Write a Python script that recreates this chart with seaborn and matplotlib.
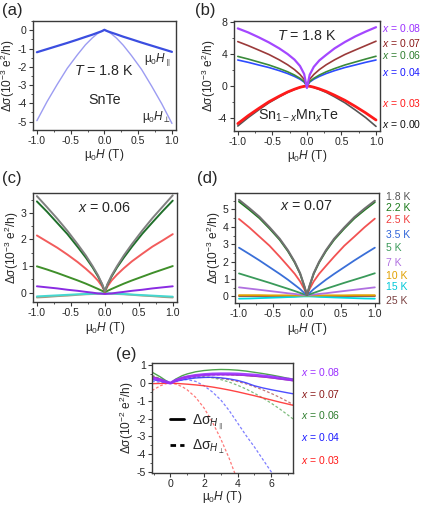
import numpy as np
import pandas as pd
import matplotlib
matplotlib.use("Agg")
import matplotlib.pyplot as plt
import seaborn as sns
from matplotlib.ticker import MultipleLocator
from matplotlib.lines import Line2D

sns.set_style("ticks")
plt.rcParams['font.family'] = ['Liberation Sans', 'DejaVu Sans']
plt.rcParams['mathtext.fontset'] = 'custom'
plt.rcParams['mathtext.rm'] = 'Liberation Sans'
plt.rcParams['mathtext.it'] = 'Liberation Sans:italic'
plt.rcParams['mathtext.bf'] = 'Liberation Sans:bold'
plt.rcParams['axes.unicode_minus'] = False

# ---------------- data ----------------
H = [-1.0, -0.85, -0.7, -0.55, -0.4, -0.28, -0.18, -0.1, -0.04, 0.0,
     0.04, 0.1, 0.18, 0.28, 0.4, 0.55, 0.7, 0.85, 1.0]

# (a) SnTe, T = 1.8 K
a_par = [-1.2, -1.03, -0.86, -0.69, -0.51, -0.36, -0.24, -0.13, -0.05, 0.03,
         -0.04, -0.12, -0.22, -0.35, -0.49, -0.67, -0.84, -1.01, -1.18]
a_perp = [-4.95, -3.91, -2.97, -2.08, -1.34, -0.79, -0.42, -0.17, -0.04, 0.0,
          -0.04, -0.18, -0.43, -0.82, -1.38, -2.14, -3.06, -4.03, -5.1]

# (b) Sn1-xMnxTe, T = 1.8 K
b_labels = ["0.08", "0.07", "0.06", "0.04", "0.03", "0.00"]
b08 = [7.2, 6.7, 6.1, 5.45, 4.7, 4.0, 3.3, 2.5, 1.5, -0.25,
       1.4, 2.4, 3.2, 3.9, 4.7, 5.5, 6.2, 6.8, 7.35]
b07 = [5.55, 5.05, 4.5, 3.94, 3.27, 2.66, 2.05, 1.44, 0.83, 0.0,
       0.83, 1.44, 2.05, 2.66, 3.27, 3.94, 4.5, 5.05, 5.6]
b06 = [3.7, 3.37, 3.0, 2.63, 2.18, 1.78, 1.37, 0.96, 0.56, 0.0,
       0.56, 0.96, 1.37, 1.78, 2.18, 2.63, 3.0, 3.37, 3.72]
b04 = [3.25, 2.96, 2.63, 2.31, 1.92, 1.56, 1.2, 0.85, 0.49, 0.0,
       0.49, 0.85, 1.2, 1.56, 1.92, 2.31, 2.63, 2.96, 3.25]
b03 = [-4.7, -3.71, -2.82, -1.97, -1.27, -0.75, -0.4, -0.16, -0.04, 0.0,
       -0.03, -0.15, -0.36, -0.68, -1.15, -1.79, -2.55, -3.36, -4.25]
b00 = [-5.0, -3.95, -3.0, -2.1, -1.35, -0.8, -0.43, -0.18, -0.04, 0.0,
       -0.04, -0.18, -0.43, -0.8, -1.35, -2.1, -3.0, -3.95, -5.05]

# (c) x = 0.06
c1 = [3.63, 3.21, 2.78, 2.32, 1.82, 1.40, 1.0, 0.65, 0.33, 0.05,
      0.33, 0.65, 1.0, 1.40, 1.83, 2.33, 2.8, 3.23, 3.66]
c2 = [3.43, 3.04, 2.62, 2.2, 1.72, 1.32, 0.95, 0.61, 0.31, 0.05,
      0.31, 0.61, 0.95, 1.32, 1.73, 2.21, 2.64, 3.06, 3.46]
c3 = [2.15, 1.92, 1.69, 1.43, 1.15, 0.9, 0.67, 0.45, 0.24, 0.03,
      0.24, 0.46, 0.68, 0.92, 1.18, 1.46, 1.73, 1.96, 2.2]
c4 = [0.99, 0.87, 0.74, 0.6, 0.46, 0.34, 0.23, 0.14, 0.07, 0.02,
      0.07, 0.14, 0.23, 0.34, 0.46, 0.6, 0.74, 0.87, 1.0]
c5 = [0.24, 0.2, 0.16, 0.11, 0.07, 0.03, 0.0, -0.03, -0.04, -0.05,
      -0.04, -0.03, 0.0, 0.03, 0.07, 0.11, 0.16, 0.2, 0.24]
c6 = [-0.14, -0.12, -0.1, -0.08, -0.06, -0.05, -0.04, -0.03, -0.03, -0.03,
      -0.03, -0.03, -0.04, -0.05, -0.07, -0.09, -0.11, -0.13, -0.15]
c7 = [-0.18, -0.16, -0.13, -0.11, -0.08, -0.06, -0.05, -0.04, -0.03, -0.03,
      -0.03, -0.04, -0.05, -0.06, -0.08, -0.11, -0.13, -0.16, -0.18]

# (d) x = 0.07, temperatures
d_labels = ["1.8 K", "2.2 K", "2.5 K", "3.5 K", "5 K", "7 K", "10 K", "15 K", "25 K"]
d18 = [5.55, 5.08, 4.58, 3.97, 3.31, 2.65, 1.99, 1.33, 0.62, 0.08,
       0.62, 1.33, 1.99, 2.65, 3.31, 3.96, 4.56, 5.05, 5.5]
d22 = [5.45, 4.99, 4.5, 3.9, 3.25, 2.6, 1.95, 1.3, 0.6, 0.08,
       0.6, 1.3, 1.95, 2.6, 3.25, 3.9, 4.49, 4.97, 5.42]
d25 = [4.45, 3.97, 3.44, 2.91, 2.28, 1.75, 1.3, 0.86, 0.43, 0.08,
       0.43, 0.86, 1.3, 1.75, 2.28, 2.91, 3.44, 3.98, 4.47]
d35 = [2.8, 2.44, 2.07, 1.68, 1.29, 0.96, 0.66, 0.42, 0.2, 0.08,
       0.2, 0.42, 0.66, 0.96, 1.29, 1.68, 2.07, 2.44, 2.8]
d5 = [1.32, 1.14, 0.96, 0.78, 0.59, 0.44, 0.31, 0.2, 0.12, 0.08,
      0.12, 0.2, 0.31, 0.44, 0.59, 0.78, 0.96, 1.14, 1.33]
d7 = [0.52, 0.45, 0.38, 0.31, 0.24, 0.18, 0.14, 0.1, 0.08, 0.07,
      0.08, 0.1, 0.14, 0.18, 0.24, 0.31, 0.38, 0.45, 0.52]
d10 = [0.07, 0.07, 0.07, 0.06, 0.06, 0.06, 0.05, 0.05, 0.05, 0.05,
       0.05, 0.05, 0.05, 0.06, 0.06, 0.06, 0.07, 0.07, 0.07]
d15 = [-0.13, -0.12, -0.1, -0.08, -0.06, -0.04, -0.03, -0.01, 0.0, 0.0,
       0.0, -0.01, -0.03, -0.04, -0.06, -0.08, -0.1, -0.12, -0.13]
d25k = [0.02, 0.02, 0.02, 0.02, 0.02, 0.02, 0.02, 0.02, 0.02, 0.02,
        0.02, 0.02, 0.02, 0.02, 0.02, 0.02, 0.02, 0.02, 0.02]

# (e) high-field comparison, parallel (solid) vs perpendicular (dashed)
E = [-1.1, -0.6, -0.3, 0.0, 0.3, 0.7, 1.0, 1.5, 2.0, 2.5,
     3.0, 3.5, 4.0, 4.5, 5.0, 5.5, 6.0, 6.5, 7.0, 7.3]
e_labels = ["0.08", "0.07", "0.06", "0.04", "0.03"]
e08 = [0.3, 0.18, 0.08, 0.0, 0.15, 0.28, 0.35, 0.43, 0.48, 0.51,
       0.52, 0.52, 0.51, 0.48, 0.45, 0.4, 0.35, 0.28, 0.22, 0.18]
e07 = [0.38, 0.22, 0.1, 0.0, 0.17, 0.3, 0.37, 0.44, 0.47, 0.49,
       0.49, 0.48, 0.46, 0.43, 0.39, 0.35, 0.3, 0.24, 0.18, 0.14]
e06 = [0.62, 0.35, 0.16, 0.0, 0.22, 0.42, 0.52, 0.64, 0.71, 0.75,
       0.77, 0.76, 0.73, 0.68, 0.61, 0.54, 0.46, 0.37, 0.27, 0.22]
e04 = [0.2, 0.12, 0.05, 0.0, 0.1, 0.18, 0.23, 0.29, 0.32, 0.33,
       0.3, 0.24, 0.15, 0.02, -0.15, -0.27, -0.37, -0.46, -0.55, -0.6]
e03 = [-0.03, -0.02, -0.01, 0.0, -0.01, -0.04, -0.06, -0.1, -0.15, -0.22,
       -0.3, -0.39, -0.49, -0.6, -0.71, -0.83, -0.95, -1.07, -1.18, -1.25]
e08d = [0.25, 0.14, 0.06, 0.0, 0.12, 0.24, 0.3, 0.37, 0.42, 0.45,
        0.46, 0.46, 0.45, 0.43, 0.41, 0.38, 0.35, 0.31, 0.27, 0.25]
e07d = [0.3, 0.17, 0.07, 0.0, 0.12, 0.24, 0.29, 0.33, 0.34, 0.32,
        0.27, 0.19, 0.09, -0.04, -0.2, -0.38, -0.58, -0.8, -1.05, -1.2]
e06d = [0.45, 0.25, 0.11, 0.0, 0.14, 0.27, 0.33, 0.36, 0.35, 0.3,
        0.2, 0.06, -0.12, -0.33, -0.57, -0.84, -1.13, -1.45, -1.8, -2.02]
e04d = [0.1, 0.05, 0.02, 0.0, 0.1, 0.18, 0.2, 0.1, -0.15, -0.5,
        -0.95, -1.55, -2.25, -2.95, -3.6, -4.3, -5.0, -5.8, np.nan, np.nan]
e03d = [-0.42, -0.15, -0.04, 0.0, -0.05, -0.2, -0.38, -0.8, -1.4, -2.2,
        -3.15, -4.25, -5.5, np.nan, np.nan, np.nan, np.nan, np.nan, np.nan, np.nan]

# ---------------- styling helpers ----------------
SPINE = "#3a3a3a"
TICK_FS = 7.6
LAB_FS = 8.6


def style_axes(ax, xmaj, xmin, ymaj, ymin):
    for s in ax.spines.values():
        s.set_color(SPINE)
        s.set_linewidth(1.0)
        s.set_visible(True)
    ax.xaxis.set_major_locator(MultipleLocator(xmaj))
    ax.xaxis.set_minor_locator(MultipleLocator(xmin))
    ax.yaxis.set_major_locator(MultipleLocator(ymaj))
    ax.yaxis.set_minor_locator(MultipleLocator(ymin))
    ax.tick_params(which="major", direction="out", length=3, width=0.8,
                   labelsize=TICK_FS, color=SPINE, pad=1.5)
    ax.tick_params(which="minor", direction="out", length=1.6, width=0.6, color=SPINE)
    ax.set_facecolor("white")


def line(ax, x, y, color, lw=1.2, ls="-", alpha=1.0, z=2):
    sns.lineplot(x=x, y=y, ax=ax, color=color, lw=lw, linestyle=ls,
                 alpha=alpha, sort=False, errorbar=None, zorder=z)


XLAB = "μ$_0$$H$ (T)"
YLAB3 = "Δσ(10$^{-3}$ e$^{2}$/h)"
YLAB2 = "Δσ(10$^{-2}$ e$^{2}$/h)"

fig = plt.figure(figsize=(4.21, 5.05), dpi=100)
fig.patch.set_facecolor("white")

# ---------------- (a) ----------------
axa = fig.add_axes([0.078, 0.743, 0.340, 0.215])
line(axa, H, a_perp, "#9c9cf2", lw=1.0)
line(axa, H, a_par, "#3b4ee0", lw=1.6)
axa.set_xlim(-1.06, 1.06)
axa.set_ylim(-5.45, 0.5)
style_axes(axa, 0.5, 0.25, 1, 0.5)
axa.set_xlabel(XLAB, fontsize=LAB_FS, labelpad=1)
axa.set_ylabel(YLAB3, fontsize=LAB_FS, labelpad=0)
axa.text(0.0, -2.25, "$T$ = 1.8 K", fontsize=10.3, ha="center", va="center")
axa.text(0.0, -3.8, "SnTe", fontsize=10.3, ha="center", va="center")
axa.text(0.99, -1.65, "μ$_0$$H_{\\parallel}$", fontsize=8.5, ha="right", va="center")
axa.text(0.99, -4.75, "μ$_0$$H_{\\perp}$", fontsize=8.5, ha="right", va="center")

# ---------------- (b) ----------------
axb = fig.add_axes([0.555, 0.741, 0.348, 0.217])
b_series = [b08, b07, b06, b04, b03, b00]
b_colors = ["#a447ff", "#9b3a3a", "#3a8a3a", "#2d4cff", "#ff1a1a", "#555555"]
b_lab_colors = ["#9b30ff", "#8b1a1a", "#2e7d2e", "#1a1aff", "#ff1a1a", "#111111"]
b_lw = [1.6, 1.2, 1.2, 1.2, 2.0, 1.2]
b_z = [6, 5, 4, 3, 2, 1]
for ys, c, lw, z in zip(b_series, b_colors, b_lw, b_z):
    line(axb, H, ys, c, lw=lw, z=z)
axb.set_xlim(-1.06, 1.06)
axb.set_ylim(-5.6, 8.1)
style_axes(axb, 0.5, 0.25, 4, 2)
axb.set_xlabel(XLAB, fontsize=LAB_FS, labelpad=1)
axb.set_ylabel(YLAB3, fontsize=LAB_FS, labelpad=0)
axb.text(0.0, 6.25, "$T$ = 1.8 K", fontsize=10.3, ha="center", va="center")
axb.text(-0.12, -3.75, "Sn$_{1-x}$Mn$_x$Te", fontsize=10.3, ha="center", va="center")
b_lab_y = [7.25, 5.4, 3.9, 1.75, -2.1, -4.75]
for lab, yy, c in zip(b_labels, b_lab_y, b_lab_colors):
    axb.annotate(f"$x$ = {lab}", xy=(1.01, yy), xycoords=("axes fraction", "data"),
                 fontsize=7.5, color=c, ha="left", va="center", annotation_clip=False)

# ---------------- (c) ----------------
axc = fig.add_axes([0.078, 0.402, 0.342, 0.216])
c_series = [c7, c6, c5, c4, c3, c2, c1]
c_colors = ["#a89a80", "#45d8d0", "#8a2be2", "#3f8f2a", "#f25c5c", "#1f6f2a", "#808080"]
for ys, c in zip(c_series, c_colors):
    line(axc, H, ys, c, lw=1.4)
axc.set_xlim(-1.06, 1.06)
axc.set_ylim(-0.35, 3.75)
style_axes(axc, 0.5, 0.25, 1, 0.5)
axc.set_xlabel(XLAB, fontsize=LAB_FS, labelpad=1)
axc.set_ylabel(YLAB3, fontsize=LAB_FS, labelpad=0)
axc.text(0.0, 3.2, "$x$ = 0.06", fontsize=10.3, ha="center", va="center")

# ---------------- (d) ----------------
axd = fig.add_axes([0.558, 0.400, 0.342, 0.218])
d_series = [d18, d22, d25, d35, d5, d7, d10, d15, d25k]
d_colors = ["#707070", "#1a7a1a", "#f25252", "#3a6fd8", "#3a9a5a", "#b070e0", "#e0a000", "#00d8e0", "#8b4a4a"]
d_lab_colors = ["#555555", "#1a7a1a", "#f03c3c", "#2f64d8", "#3a9a5a", "#b070e0", "#e0a000", "#00c8d8", "#7a4040"]
for i in [1, 0, 2, 3, 4, 5, 8, 6, 7]:
    line(axd, H, d_series[i], d_colors[i], lw=1.5 if i == 0 else 1.3, z=10 - i)
axd.set_xlim(-1.06, 1.06)
axd.set_ylim(-0.38, 5.95)
style_axes(axd, 0.5, 0.25, 1, 0.5)
axd.set_xlabel(XLAB, fontsize=LAB_FS, labelpad=1)
axd.set_ylabel(YLAB3, fontsize=LAB_FS, labelpad=0)
axd.text(0.0, 5.2, "$x$ = 0.07", fontsize=10.3, ha="center", va="center")
d_lab_y = [5.72, 5.06, 4.42, 3.55, 2.77, 1.92, 1.18, 0.55, -0.28]
for lab, yy, c in zip(d_labels, d_lab_y, d_lab_colors):
    axd.annotate(lab, xy=(1.05, yy), xycoords=("axes fraction", "data"),
                 fontsize=7.5, color=c, ha="left", va="center", annotation_clip=False)

# ---------------- (e) ----------------
axe = fig.add_axes([0.361, 0.063, 0.335, 0.218])
e_solid = [e03, e04, e07, e06, e08]
e_dash = [e03d, e04d, e07d, e06d, e08d]
e_colors = ["#ff3030", "#3a3aff", "#a03030", "#3a9a3a", "#9b30ff"]
e_lab_colors = ["#9b30ff", "#8b1a1a", "#2e7d2e", "#1a1aff", "#ff1a1a"]
for ys, c in zip(e_dash, e_colors):
    line(axe, E, ys, c, lw=0.9, ls=(0, (2.2, 1.6)), alpha=0.65)
for ys, c in zip(e_solid, e_colors):
    lw = 2.2 if c == "#9b30ff" else 1.0
    line(axe, E, ys, c, lw=lw, alpha=0.9)
axe.set_xlim(-1.1, 7.3)
axe.set_ylim(-5.08, 1.13)
style_axes(axe, 2, 1, 1, 0.5)
axe.tick_params(axis="x", which="major", pad=1)
axe.set_xlabel(XLAB, fontsize=LAB_FS, labelpad=0)
axe.set_ylabel(YLAB2, fontsize=LAB_FS, labelpad=0)
e_lab_y = [0.61, -0.6, -1.82, -3.04, -4.35]
for lab, yy, c in zip(e_labels, e_lab_y, e_lab_colors):
    axe.annotate(f"$x$ = {lab}", xy=(1.06, yy), xycoords=("axes fraction", "data"),
                 fontsize=7.5, color=c, ha="left", va="center", annotation_clip=False)
handles = [Line2D([], [], color="black", lw=2.0),
           Line2D([], [], color="black", lw=2.0, ls=(0, (2, 1.5)))]
axe.legend(handles, ["Δσ$_{H_{\\parallel}}$", "Δσ$_{H_{\\perp}}$"], loc="lower left",
           bbox_to_anchor=(0.04, 0.04), frameon=False, fontsize=10,
           handlelength=1.0, handletextpad=0.6, labelspacing=0.5)

# ---------------- panel letters ----------------
for txt, xx, yy in [("(a)", 0.004, 0.995), ("(b)", 0.463, 0.995),
                    ("(c)", 0.004, 0.662), ("(d)", 0.468, 0.662),
                    ("(e)", 0.275, 0.312)]:
    fig.text(xx, yy, txt, fontsize=12, ha="left", va="top")

fig.savefig("out.png", dpi=100, facecolor="white")
